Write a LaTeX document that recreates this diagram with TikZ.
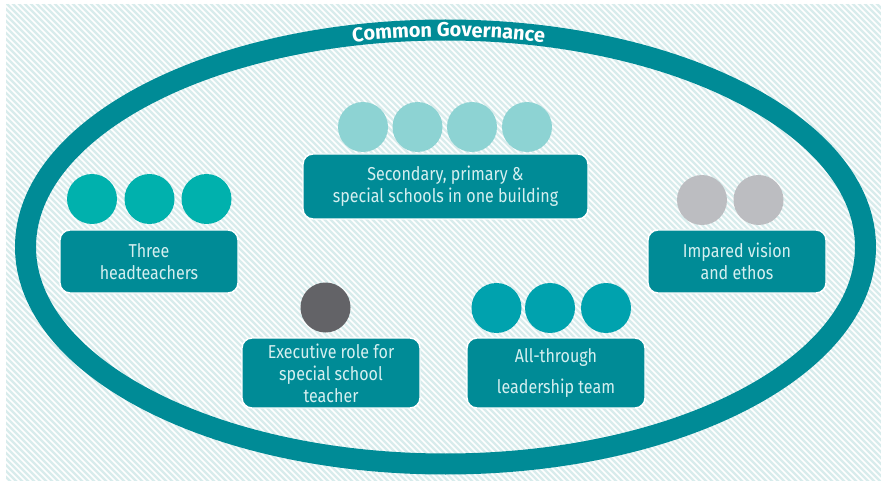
\documentclass[tikz,border=0pt]{standalone}
\usepackage{fontspec}
\setmainfont{Fira Sans}[FakeStretch=0.86]
\newfontfamily\govfont{Fira Sans}
\usetikzlibrary{decorations.text,positioning}
\definecolor{ring}{RGB}{0,139,150}
\definecolor{paper}{RGB}{216,236,236}
\definecolor{boxtext}{RGB}{213,239,240}
\definecolor{cLight}{RGB}{141,211,211}
\definecolor{cHead}{RGB}{0,177,173}
\definecolor{cGrey}{RGB}{188,189,193}
\definecolor{cDark}{RGB}{99,99,103}
\definecolor{cLead}{RGB}{0,162,174}
\tikzset{
  gov schemes/.style = {
    x=0.75pt, y=0.75pt,
    % Boxes
    sbox/.style = {
      draw=white, line width=1.1pt, fill=ring,
      rounded corners=7.5pt, inner sep=0pt,
      text=boxtext, align=center,
      font=\fontsize{14}{16.5}\selectfont,
      minimum width=133.5pt, minimum height=47.25pt
    },
    sbox tall/.style = { sbox, minimum height=52.5pt},
    sbox wide/.style = { sbox, minimum width=213.75pt, minimum height=48.75pt},
    % Ring
    ring line/.style = {draw=ring, line width=15.75pt},
  }
}
\def\discs<#1>(#2)#3;{\foreach \x in {#3} \fill[#1] (\x,#2) circle (25);}
\begin{document}
\begin{tikzpicture}[gov schemes]
\useasboundingbox (0,0) rectangle (883,483);
\fill[paper] (6,2) rectangle (881,479);
\begin{scope}
  \clip (6,2) rectangle (881,479);
  \foreach \i in {-480,-474,...,880}
    \draw[white, line width=1.1pt] (\i,483) -- ++(483,-483);
\end{scope}

%---------------------------------------------
\draw[ring line] (445.5,236) ellipse [x radius=420, y radius=217];
\path[decorate, text=white, decoration={text along path, text align=center, raise=-5pt,
    text={|\govfont\bfseries\fontsize{15}{15}\selectfont\color{white}|Common Governance}}]
  (445.5,236) ++(129.5:420 and 217)
  arc [start angle=129.5, end angle=49.5, x radius=420, y radius=217];

%---------------------------------------------
\discs<cLight>(356) 363,417.5,472,527;
\node[sbox wide] (schools) at (445.5,296.5) {Secondary, primary \&\\special schools in one building};

\discs<cHead>(284) 92,149.5,206.5;
\node[sbox] (heads) at (149,221.5) {Three\\headteachers};

\discs<cGrey>(283) 702,758.5;
\node[sbox] (vision) at (737,221.5) {Impared vision\\and ethos};

\discs<cDark>(175.5) 325.5;
\node[sbox tall] (exec) at (331,110) {Executive role for\\special school\\teacher};

\discs<cLead>(175) 496.5,550,606;
\node[sbox tall] (lead) at (556,110) {All-through\\[7pt]leadership team};

\end{tikzpicture}
\end{document}
